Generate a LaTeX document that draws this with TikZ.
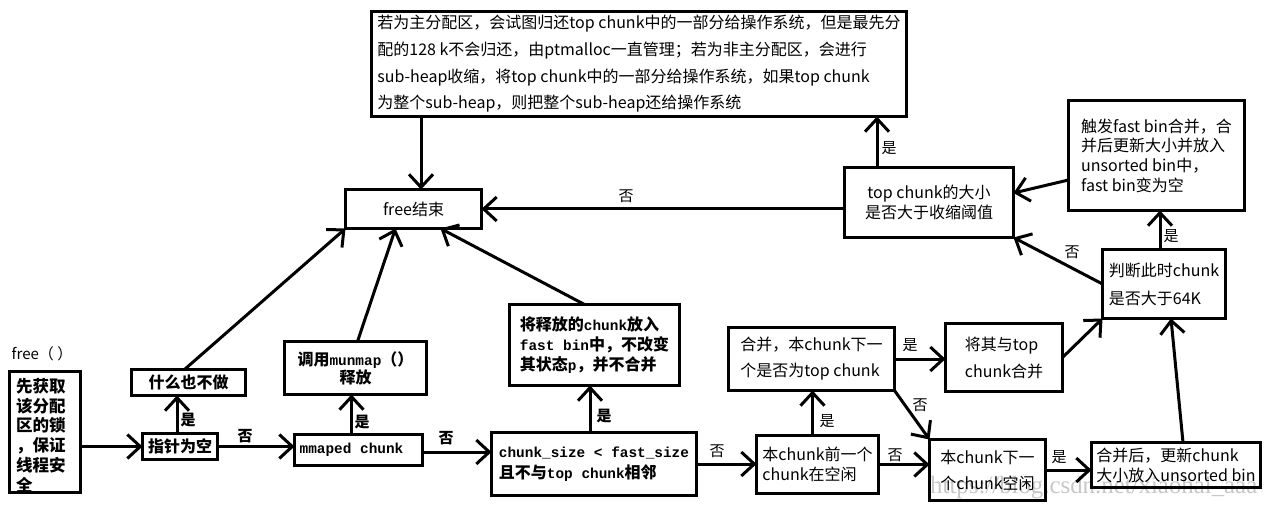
\documentclass[tikz,border=0pt]{standalone}
\usepackage{fontspec}
\setmainfont{Noto Sans CJK SC}
\newfontfamily\monofnt{Liberation Mono}[Scale=0.9]
\newfontfamily\wmfont{Liberation Serif}
\usetikzlibrary{arrows.meta}
\newcommand\mtx[1]{{\monofnt\bfseries #1}}
\begin{document}
\begin{tikzpicture}[x=1pt,y=-1pt,
  box/.style={draw, line width=3pt, rectangle, inner sep=0pt, outer sep=0pt, align=left, font=\fontsize{16}{20}\selectfont},
  arr/.style={line width=3pt, -{Straight Barb[length=13pt,width=24pt,line width=3pt]}},
  lab/.style={inner sep=0pt, font=\fontsize{15}{18}\selectfont},
  blab/.style={inner sep=0pt, font=\fontsize{15}{18}\selectfont\bfseries}]
\fill[white] (0,0) rectangle (1272,505);
\useasboundingbox (0,0) rectangle (1272,505);

% boxes
\node[box, minimum width=535pt, minimum height=105pt, font=\fontsize{16}{26.7}\selectfont] (top) at (639,64)
 {若为主分配区，会试图归还top chunk中的一部分给操作系统，但是最先分\\配的128 k不会归还，由ptmalloc一直管理；若为非主分配区，会进行\\sub-heap收缩，将top chunk中的一部分给操作系统，如果top chunk\\为整个sub-heap，则把整个sub-heap还给操作系统};
\node[box, minimum width=136pt, minimum height=39pt] (end) at (413.5,209) {free结束};
\node[box, minimum width=169pt, minimum height=70pt, align=center] (tcs) at (929,202.5) {top chunk的大小\\是否大于收缩阈值};
\node[box, minimum width=176pt, minimum height=110pt, font=\fontsize{16}{19.7}\selectfont] (fb) at (1156.5,155.5) {触发fast bin合并，合\\并后更新大小并放入\\unsorted bin中，\\fast bin变为空};
\node[box, minimum width=123pt, minimum height=69pt, font=\fontsize{16}{28}\selectfont] (judge) at (1164,284) {判断此时chunk\\是否大于64K};
\node[box, minimum width=71pt, minimum height=121pt] (lock) at (45,432) {};
\begin{scope}
 \clip (9.5,371.5) rectangle (80.5,492.5);
 \node[inner sep=0pt, anchor=north west, align=left, font=\fontsize{16.5}{19.8}\selectfont\bfseries] (locktext) at (16,378) {先获取\\该分配\\区的锁\\，保证\\线程安\\全};
\end{scope}
\draw[line width=3pt] (lock.south west) rectangle (lock.north east);
\node[box, minimum width=114pt, minimum height=26pt, font=\fontsize{16}{20}\selectfont\bfseries] (nothing) at (188.5,382.5) {什么也不做};
\node[box, minimum width=75pt, minimum height=26pt, font=\fontsize{16}{20}\selectfont\bfseries] (ptr) at (180,446.5) {指针为空};
\node[box, minimum width=142pt, minimum height=53pt, align=center, font=\fontsize{16}{18}\selectfont\bfseries] (munmap) at (355.5,368) {调用\mtx{munmap}（）\\释放};
\node[box, minimum width=128pt, minimum height=31pt, font=\fontsize{16}{20}\selectfont\bfseries] (mmaped) at (358.5,450) {\mtx{mmaped chunk}\hspace{14pt}};
\node[box, minimum width=170pt, minimum height=81pt, font=\fontsize{16}{20}\selectfont\bfseries] (fastbin) at (594.5,345) {将释放的\mtx{chunk}放入\\\mtx{fast bin}中，不改变\\其状态\mtx{p}，并不合并};
\node[box, minimum width=205pt, minimum height=63pt, font=\fontsize{16}{21}\selectfont\bfseries] (csize) at (594,464) {\mtx{chunk\_size < fast\_size}\\且不与\mtx{top chunk}相邻};
\node[box, minimum width=166pt, minimum height=63pt, font=\fontsize{16}{26}\selectfont] (mergeq) at (811.5,359) {合并，本chunk下一\\个是否为top chunk};
\node[box, minimum width=117pt, minimum height=68pt, font=\fontsize{16}{27}\selectfont] (mtop) at (1004,357.5) {将其与top\\chunk合并};
\node[box, minimum width=122pt, minimum height=58pt] (prev) at (817.5,464.5) {本chunk前一个\\chunk在空闲};
\node[box, minimum width=116pt, minimum height=61pt, font=\fontsize{16}{26}\selectfont] (next) at (987.5,470) {本chunk下一\\个chunk空闲};
\node[box, minimum width=169pt, minimum height=45pt] (after) at (1176,465) {合并后，更新chunk\\大小放入unsorted bin};

% helper coordinates
\coordinate (c1) at ([shift={(-3,0)}]ptr.north);
\coordinate (c2) at ([shift={(-7,0)}]mmaped.north);
\coordinate (c3) at ([shift={(0,2)}]mmaped.east);
\coordinate (c4) at ([shift={(-4,0)}]csize.north);
\coordinate (c5) at ([shift={(-5,0)}]prev.north);
\coordinate (c6) at ([shift={(-4,0)}]judge.north);
\coordinate (c7) at ([shift={(-52,0)}]tcs.north);
\coordinate (c8) at ([shift={(7.5,0)}]end.north);

% connectors
\draw[arr] (ptr.west -| lock.east) -- (ptr.west);
\draw[arr] (c1) -- (c1 |- nothing.south);
\draw[arr] ([shift={(-4,0)}]nothing.north) -- (end.south west);
\draw[arr] (ptr.east) -- (ptr.east -| mmaped.west);
\draw[arr] (c2) -- (c2 |- munmap.south);
\draw[arr] ([shift={(2,0)}]munmap.north) -- ([shift={(-18,0)}]end.south);
\draw[arr] (c3) -- (c3 -| csize.west);
\draw[arr] (c4) -- (c4 |- fastbin.south);
\draw[arr] ([shift={(-10,0)}]fastbin.north) -- ([shift={(27,0)}]end.south);
\draw[arr] (csize.east) -- (csize.east -| prev.west);
\draw[arr] (c5) -- (c5 |- mergeq.south);
\draw[arr] (prev.east) -- (prev.east -| next.west);
\draw[arr] (mergeq.east) -- (mergeq.east -| mtop.west);
\draw[arr] (mergeq.south east) -- (next.north west);
\draw[arr] (next.east) -- (next.east -| after.west);
\draw[arr] (mtop.east) -- (judge.south west);
\draw[arr] ([shift={(7,0)}]after.north) -- ([shift={(7,0)}]judge.south);
\draw[arr] (c6) -- (c6 |- fb.south);
\draw[arr] (judge.west) -- (tcs.south east);
\draw[arr] ([shift={(0,24.5)}]fb.west) -- ([shift={(0,-9.5)}]tcs.east);
\draw[arr] (c7) -- (c7 |- top.south);
\draw[arr] (tcs.west |- end.east) -- (end.east);
\draw[arr] (c8 |- top.south) -- (c8);

% labels
\node[lab] (freelab) at (42,354) {free（ ）};
\node[blab] (l1) at (188,420) {是};
\node[blab] (l2) at (245,436) {否};
\node[blab] (l3) at (362,422) {是};
\node[blab] (l4) at (446,438) {否};
\node[blab] (l5) at (604,416) {是};
\node[lab] (l6) at (717,451) {否};
\node[lab] (l7) at (827,421) {是};
\node[lab] (l8) at (895,455) {否};
\node[lab] (l9) at (910,345) {是};
\node[lab] (l10) at (920,405) {否};
\node[lab] (l11) at (1059,457) {是};
\node[lab] (l12) at (1072,252) {否};
\node[lab] (l13) at (1171,236) {是};
\node[lab] (l14) at (889,148) {是};
\node[lab] (l15) at (626,196) {否};

% watermark
\node[inner sep=0pt, anchor=base west, text=black, opacity=0.22] (wm) at (930,493) {\resizebox{327pt}{!}{\wmfont https://blog.csdn.net/xiaohai\_aaa}};
\end{tikzpicture}
\end{document}
